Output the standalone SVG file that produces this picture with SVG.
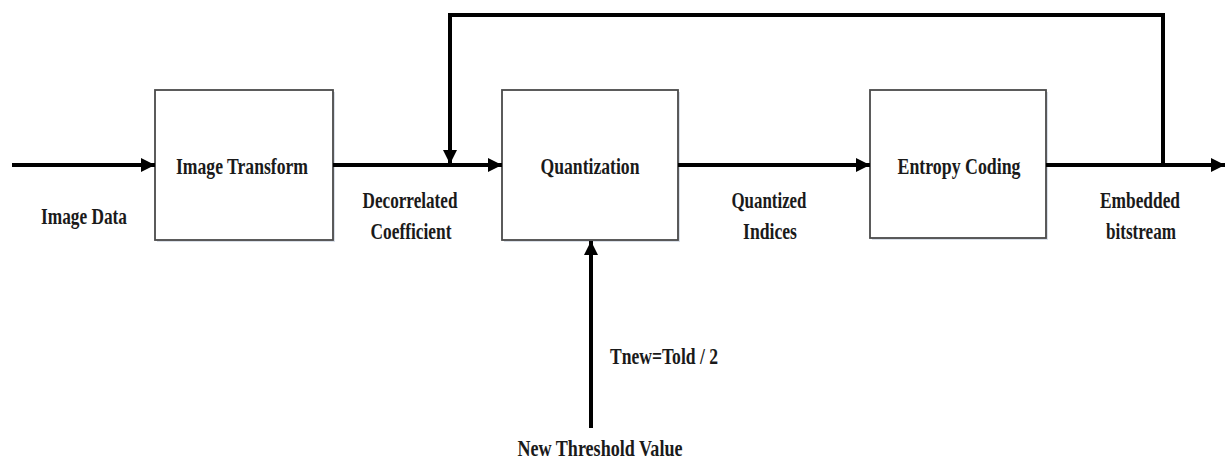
<svg xmlns="http://www.w3.org/2000/svg" width="1226" height="459" viewBox="0 0 1226 459">
<style>
.box{fill:#ffffff;stroke:#4a4a4a;stroke-width:1.8}
.shadow{fill:#c9d2de;opacity:0.7}
.wire{fill:none;stroke:#000;stroke-width:4}
.lbl{font-family:"Liberation Serif","Times New Roman",serif;font-weight:bold;font-size:24px;fill:#1a1a1a}
</style>
<defs>
<marker id="ah" markerUnits="userSpaceOnUse" markerWidth="16" markerHeight="16" viewBox="0 0 16 16" refX="15" refY="8" orient="auto">
<path d="M1,1 L15,8 L1,15 Z" fill="#000"/>
</marker>
</defs>
<rect width="1226" height="459" fill="#ffffff"/>
<g id="image-transform">
<rect class="shadow" x="157" y="92" width="178" height="150"/>
<rect class="box" x="155" y="90" width="178" height="150"/>
<text class="lbl" x="242" y="174" text-anchor="middle" textLength="132" lengthAdjust="spacingAndGlyphs">Image Transform</text>
</g>
<g id="quantization">
<rect class="shadow" x="504" y="92" width="176" height="150"/>
<rect class="box" x="502" y="90" width="176" height="150"/>
<text class="lbl" x="590" y="174" text-anchor="middle" textLength="99" lengthAdjust="spacingAndGlyphs">Quantization</text>
</g>
<g id="entropy-coding">
<rect class="shadow" x="872" y="92" width="176" height="148"/>
<rect class="box" x="870" y="90" width="176" height="148"/>
<text class="lbl" x="959" y="174" text-anchor="middle" textLength="123" lengthAdjust="spacingAndGlyphs">Entropy Coding</text>
</g>
<g id="connectors">
<line class="wire" x1="12" y1="165" x2="155" y2="165" marker-end="url(#ah)"/>
<line class="wire" x1="333" y1="165" x2="502" y2="165" marker-end="url(#ah)"/>
<line class="wire" x1="678" y1="165" x2="870" y2="165" marker-end="url(#ah)"/>
<line class="wire" x1="1046" y1="165" x2="1225" y2="165" marker-end="url(#ah)"/>
<polyline class="wire" points="1163,165 1163,15 450,15 450,164" stroke-linejoin="miter" marker-end="url(#ah)"/>
<line class="wire" x1="591" y1="428" x2="591" y2="241" marker-end="url(#ah)"/>
</g>
<g id="labels">
<text class="lbl" x="84" y="224" text-anchor="middle" textLength="86" lengthAdjust="spacingAndGlyphs">Image Data</text>
<text class="lbl" x="410" y="208" text-anchor="middle" textLength="95" lengthAdjust="spacingAndGlyphs">Decorrelated</text>
<text class="lbl" x="411" y="239" text-anchor="middle" textLength="81" lengthAdjust="spacingAndGlyphs">Coefficient</text>
<text class="lbl" x="769" y="208" text-anchor="middle" textLength="75" lengthAdjust="spacingAndGlyphs">Quantized</text>
<text class="lbl" x="770" y="239" text-anchor="middle" textLength="54" lengthAdjust="spacingAndGlyphs">Indices</text>
<text class="lbl" x="1140" y="208" text-anchor="middle" textLength="80" lengthAdjust="spacingAndGlyphs">Embedded</text>
<text class="lbl" x="1141" y="239" text-anchor="middle" textLength="70" lengthAdjust="spacingAndGlyphs">bitstream</text>
<text class="lbl" x="610" y="364" textLength="108" lengthAdjust="spacingAndGlyphs">Tnew=Told / 2</text>
<text class="lbl" x="600" y="456" text-anchor="middle" textLength="165" lengthAdjust="spacingAndGlyphs">New Threshold Value</text>
</g>
</svg>
